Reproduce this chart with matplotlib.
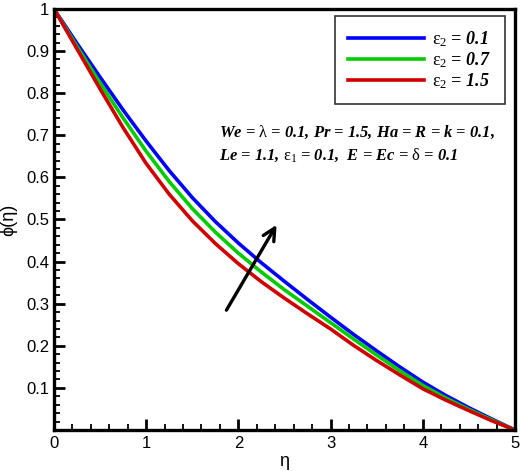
import matplotlib
matplotlib.use("Agg")
import matplotlib.pyplot as plt
from matplotlib.ticker import MultipleLocator

plt.rcParams["font.family"] = ["Liberation Sans", "DejaVu Sans"]
plt.rcParams["mathtext.fontset"] = "custom"
plt.rcParams["mathtext.rm"] = "Liberation Serif"
plt.rcParams["mathtext.it"] = "Liberation Serif:italic:bold"
plt.rcParams["mathtext.bf"] = "Liberation Serif:bold"

# values
eta = [0, 0.25, 0.5, 0.75, 1, 1.25, 1.5, 1.75, 2, 2.25, 2.5,
       2.75, 3, 3.25, 3.5, 3.75, 4, 4.25, 4.5, 4.75, 5]
phi_01 = [1, 0.918, 0.838, 0.760, 0.686, 0.616, 0.552, 0.495, 0.444, 0.397, 0.353,
          0.310, 0.268, 0.227, 0.188, 0.150, 0.114, 0.082, 0.053, 0.026, 0]
phi_07 = [1, 0.911, 0.824, 0.741, 0.662, 0.590, 0.526, 0.470, 0.420, 0.375, 0.333,
          0.294, 0.255, 0.216, 0.178, 0.141, 0.106, 0.076, 0.049, 0.024, 0]
phi_15 = [1, 0.905, 0.810, 0.718, 0.633, 0.560, 0.497, 0.443, 0.395, 0.352, 0.313,
          0.276, 0.240, 0.201, 0.165, 0.131, 0.098, 0.071, 0.046, 0.022, 0]

labels = [r"$\mathrm{\varepsilon}_{2}$ = 0.1",
          r"$\mathrm{\varepsilon}_{2}$ = 0.7",
          r"$\mathrm{\varepsilon}_{2}$ = 1.5"]
colors = ["#0000ff", "#00cc00", "#d00000"]

fig = plt.figure(figsize=(5.2, 4.71), dpi=100)
ax = fig.add_axes([0.1038, 0.087, 0.8865, 0.894])

for y, lab, c in zip([phi_01, phi_07, phi_15], labels, colors):
    ax.plot(eta, y, color=c, lw=2.6, label=lab, solid_joinstyle="round")

ax.set_xlim(0, 5)
ax.set_ylim(0, 1)
ax.xaxis.set_major_locator(MultipleLocator(1))
ax.xaxis.set_minor_locator(MultipleLocator(0.2))
ax.set_yticks([0.1, 0.2, 0.3, 0.4, 0.5, 0.6, 0.7, 0.8, 0.9, 1])
ax.set_yticklabels(["0.1", "0.2", "0.3", "0.4", "0.5", "0.6", "0.7", "0.8", "0.9", "1"])
ax.yaxis.set_minor_locator(MultipleLocator(0.02))
ax.tick_params(which="both", direction="in", width=1.3, labelsize=12)
ax.tick_params(which="major", length=8, width=2)
ax.tick_params(which="minor", length=4)
ax.tick_params(axis="x", pad=4)
for s in ax.spines.values():
    s.set_linewidth(2.4)

ax.set_xlabel("η", fontsize=13, labelpad=2)
ax.set_ylabel("ϕ(η)", fontsize=13, labelpad=6)

leg = ax.legend(loc="upper right", bbox_to_anchor=(0.978, 0.983), borderaxespad=0,
                fancybox=False, edgecolor="black", handlelength=4.2,
                handletextpad=0.45, borderpad=0.75, labelspacing=0.05,
                prop={"family": "Liberation Serif", "weight": "bold",
                      "style": "italic", "size": 13})
leg.get_frame().set_linewidth(1.2)

ax.text(0.358, 0.68,
        r"We = $\mathrm{\lambda}$ = 0.1, Pr = 1.5, Ha = R = k = 0.1," + "\n"
        + r"Le = 1.1, $\mathrm{\varepsilon}_{1}$ = 0.1,  E = Ec = $\mathrm{\delta}$ = 0.1",
        transform=ax.transAxes, family="Liberation Serif", weight="bold",
        style="italic", fontsize=11.9, linespacing=1.35, va="center")

arrow_start = (1.855, 0.279)
arrow_end = (2.43, 0.493)
ax.annotate("", xy=arrow_end, xytext=arrow_start,
            arrowprops=dict(arrowstyle="->", lw=2.4, color="black", mutation_scale=22))

fig.savefig("out.png", dpi=100)
